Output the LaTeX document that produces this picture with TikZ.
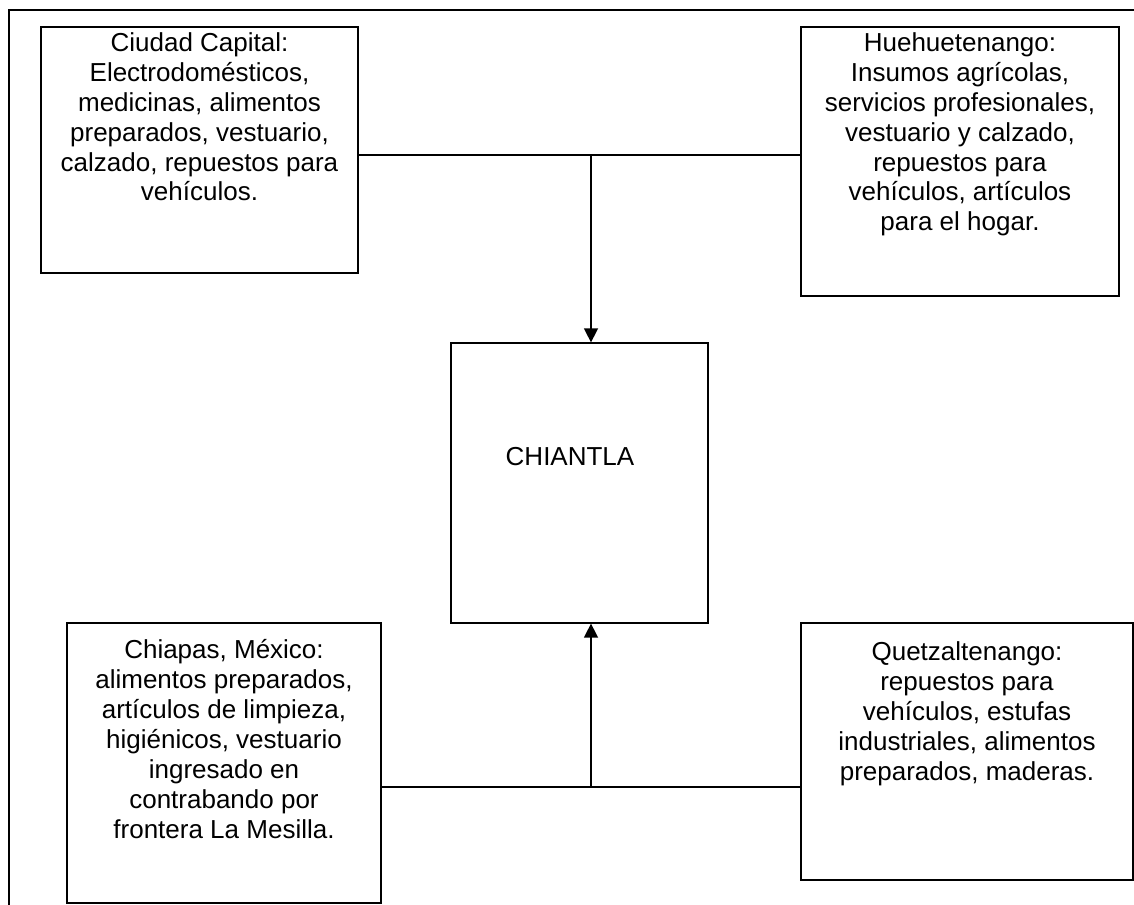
\documentclass[tikz,border=0pt]{standalone}
\usepackage{fontspec}
\setmainfont{Liberation Sans}
\usepackage{tikz}
\usetikzlibrary{positioning}
\usetikzlibrary{arrows.meta}

\tikzset{
	box/.style={draw, line width=0.75pt, inner sep=0pt},
	txt/.style={align=center, inner sep=0pt, font=\fontsize{14.8}{17}\selectfont},
	conn/.style={line width=0.85pt},
	tip/.style={-{Triangle[width=0.28cm,length=0.28cm]}}
}

\begin{document}
\begin{tikzpicture}[x=0.02cm, y=-0.02cm]
			\useasboundingbox (0, 0) rectangle (1134, 905);

			\draw[line width=1.2pt] (9, 905)--(9, 10)--(1134, 10);

			\node[box, minimum width=6.34cm, minimum height=4.92cm] (ciudad) at (199.5, 150){};
			\node[box, minimum width=6.36cm, minimum height=5.38cm] (huehue) at (960, 161.5){};
			\node[box, minimum width=5.14cm, minimum height=5.60cm] (chiantla) at (579.5, 483){};
			\node[box, minimum width=6.28cm, minimum height=5.60cm] (chiapas) at (224, 763){};
			\node[box, minimum width=6.64cm, minimum height=5.14cm] (quetz) at (967, 751.5){};

			\node[txt, below=0.12cm of ciudad.north] (ciudadtxt){Ciudad Capital:\\Electrodomésticos,\\medicinas, alimentos\\preparados, vestuario,\\calzado, repuestos para\\vehículos.};
			\node[txt, below=0.12cm of huehue.north] (huehuetxt){Huehuetenango:\\Insumos agrícolas,\\servicios profesionales,\\vestuario y calzado,\\repuestos para\\vehículos, artículos\\para el hogar.};
			\node[txt] (chiantlatxt) at (570, 457){CHIANTLA};
			\node[txt, below=0.34cm of chiapas.north] (chiapastxt){Chiapas, México:\\alimentos preparados,\\artículos de limpieza,\\higiénicos, vestuario\\ingresado en\\contrabando por\\frontera La Mesilla.};
			\node[txt, below=0.38cm of quetz.north] (quetztxt){Quetzaltenango:\\repuestos para\\vehículos, estufas\\industriales, alimentos\\preparados, maderas.};

			\coordinate (jtop) at (591, 155);
			\coordinate (jbot) at (591, 787);

			\draw[conn] (ciudad.east |- jtop)--(huehue.west |- jtop);
			\draw[conn, tip] (jtop)--(jtop |- chiantla.north);

			\draw[conn] (chiapas.east |- jbot)--(quetz.west |- jbot);
			\draw[conn, tip] (jbot)--(jbot |- chiantla.south);
		\end{tikzpicture}
\end{document}
